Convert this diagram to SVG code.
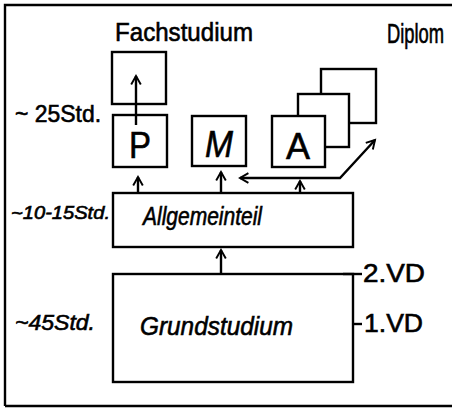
<svg xmlns="http://www.w3.org/2000/svg" width="452" height="409" viewBox="0 0 452 409">
<style>
.box{fill:#fff;stroke:#000;stroke-width:2.4}
.ln{fill:none;stroke:#000;stroke-width:2.4}
.t{font-family:"Liberation Sans",Arial,sans-serif;fill:#000;stroke:#000;stroke-width:0.6}
.hw{font-family:"Liberation Sans",Arial,sans-serif;font-style:italic;fill:#000;stroke:#000;stroke-width:0.6}
</style>
<defs>
<marker id="ah" viewBox="0 0 10 10" refX="8" refY="5" markerWidth="5" markerHeight="5" orient="auto" markerUnits="strokeWidth">
<path d="M1,1 L8,5 L1,9" fill="none" stroke="#000" stroke-width="1.6"/>
</marker>
</defs>
<rect width="452" height="409" fill="#fff"/>
<g id="frame">
<path class="ln" d="M5,406 V5 H452" stroke-width="2.6"/>
<path class="ln" d="M5,406 H452" stroke-width="2.6"/>
</g>
<g id="title">
<text class="t" x="115" y="41" font-size="26" textLength="138" lengthAdjust="spacingAndGlyphs">Fachstudium</text>
<text class="t" transform="translate(387,43) scale(0.68,1)" x="0" y="0" font-size="27">Diplom</text>
</g>
<g id="labels">
<text class="t" x="15" y="122" font-size="24" textLength="86" lengthAdjust="spacingAndGlyphs">~ 25Std.</text>
<text class="hw" x="11" y="219" font-size="18" textLength="99" lengthAdjust="spacingAndGlyphs">~10-15Std.</text>
<text class="hw" x="15" y="330" font-size="22" textLength="80" lengthAdjust="spacingAndGlyphs">~45Std.</text>
</g>
<g id="top-box"><rect class="box" x="112" y="52" width="54" height="52"/></g>
<g id="stack-back"><rect class="box" x="321" y="69" width="55" height="54"/></g>
<g id="stack-mid"><rect class="box" x="298" y="94" width="51" height="53"/></g>
<g id="node-P"><rect class="box" x="113" y="115" width="54" height="52"/><text class="t" x="140" y="158" font-size="36" text-anchor="middle" textLength="22" lengthAdjust="spacingAndGlyphs">P</text></g>
<g id="node-M"><rect class="box" x="192" y="116" width="54" height="50"/><text class="hw" x="219" y="157" font-size="36" text-anchor="middle" textLength="28" lengthAdjust="spacingAndGlyphs">M</text></g>
<g id="node-A"><rect class="box" x="272" y="116" width="53" height="51"/><text class="t" x="298" y="159" font-size="36" text-anchor="middle" textLength="24" lengthAdjust="spacingAndGlyphs">A</text></g>
<g id="node-allgemeinteil"><rect class="box" x="113" y="193" width="240" height="54"/><text class="hw" x="143" y="225" font-size="25" textLength="119" lengthAdjust="spacingAndGlyphs">Allgemeinteil</text></g>
<g id="node-grundstudium"><rect class="box" x="113" y="274" width="240" height="108"/><text class="hw" x="140" y="335" font-size="26" textLength="153" lengthAdjust="spacingAndGlyphs">Grundstudium</text></g>
<g id="connectors">
<line class="ln" x1="136" y1="125" x2="136" y2="76" marker-end="url(#ah)" stroke-width="2.8"/>
<line class="ln" x1="138" y1="193" x2="138" y2="177" marker-end="url(#ah)"/>
<line class="ln" x1="221" y1="193" x2="221" y2="172" marker-end="url(#ah)"/>
<line class="ln" x1="300" y1="193" x2="300" y2="181" marker-end="url(#ah)"/>
<line class="ln" x1="221" y1="274" x2="221" y2="250" marker-end="url(#ah)"/>
<path class="ln" d="M300,178 H240" marker-end="url(#ah)"/>
<path class="ln" d="M300,178 H340 L375,140" marker-end="url(#ah)"/>
</g>
<g id="vd-labels">
<line class="ln" x1="343" y1="274" x2="362" y2="274"/>
<text class="t" x="363" y="282" font-size="25" textLength="62" lengthAdjust="spacingAndGlyphs">2.VD</text>
<line class="ln" x1="353" y1="324" x2="362" y2="324"/>
<text class="t" x="364" y="332" font-size="25" textLength="59" lengthAdjust="spacingAndGlyphs">1.VD</text>
</g>
</svg>
